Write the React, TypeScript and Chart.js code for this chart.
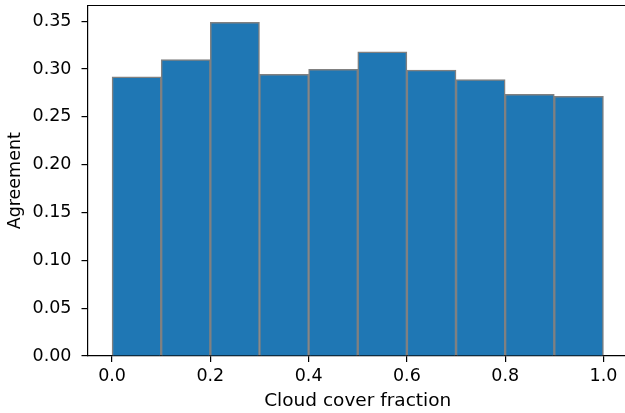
import React, { useEffect, useRef } from "react";
import { Chart, registerables } from "chart.js";

Chart.register(...registerables);

const binCenters = [0.05, 0.15, 0.25, 0.35, 0.45, 0.55, 0.65, 0.75, 0.85, 0.95];
const agreement = [0.292, 0.310, 0.349, 0.2945, 0.2997, 0.318, 0.299, 0.289, 0.2735, 0.2715];
const xTicks = [0.0, 0.2, 0.4, 0.6, 0.8, 1.0];
const yTicks = [0.0, 0.05, 0.1, 0.15, 0.2, 0.25, 0.3, 0.35];

const topSpine = {
  id: "topSpine",
  afterDraw(chart: any) {
    const { ctx, chartArea } = chart;
    ctx.save();
    ctx.strokeStyle = "#000";
    ctx.lineWidth = 1.2;
    ctx.beginPath();
    ctx.moveTo(chartArea.left, chartArea.top);
    ctx.lineTo(chartArea.right, chartArea.top);
    ctx.stroke();
    ctx.restore();
  },
};

export default function App() {
  const ref = useRef<HTMLCanvasElement>(null);
  useEffect(() => {
    document.body.style.margin = "0";
    document.body.style.overflow = "hidden";
    document.documentElement.style.overflow = "hidden";
    const font = { family: "DejaVu Sans", size: 17.5 };
    const xTitleFont = { family: "DejaVu Sans", size: 18.5 };
    const chart = new Chart(ref.current!, {
      type: "bar",
      data: {
        datasets: [
          {
            data: binCenters.map((x, i) => ({ x, y: agreement[i] })),
            backgroundColor: "#1f77b4",
            borderColor: "#808080",
            borderWidth: 1.5,
            barPercentage: 1,
            categoryPercentage: 1,
          } as any,
        ],
      },
      options: {
        animation: false,
        responsive: false,
        maintainAspectRatio: false,
        layout: { padding: { top: 5.5, right: 12, left: 0, bottom: 0 } },
        plugins: { legend: { display: false }, tooltip: { enabled: false } },
        scales: {
          x: {
            type: "linear",
            min: -0.05,
            max: 1.05,
            offset: false,
            afterBuildTicks: (s: any) => {
              s.ticks = xTicks.map((v) => ({ value: v }));
            },
            afterFit: (s: any) => {
              s.height = 57;
              s.paddingLeft = 0;
              s.paddingRight = 0;
            },
            ticks: {
              font,
              color: "#000",
              padding: 4,
              maxRotation: 0,
              callback: (v: any) => Number(v).toFixed(1),
            },
            grid: { display: true, offset: false, drawOnChartArea: false, drawTicks: true, tickLength: 6, color: "#000", lineWidth: 1.2 },
            border: { display: true, color: "#000", width: 1.2 },
            title: { display: true, text: "Cloud cover fraction", font: xTitleFont, color: "#000", padding: { top: 0, bottom: 1 } },
          },
          y: {
            type: "linear",
            min: 0,
            max: 0.3665,
            afterBuildTicks: (s: any) => {
              s.ticks = yTicks.map((v) => ({ value: v }));
            },
            afterFit: (s: any) => {
              s.width = 87.5;
              s.paddingTop = 0;
              s.paddingBottom = 0;
            },
            ticks: {
              font,
              color: "#000",
              padding: 10,
              callback: (v: any) => Number(v).toFixed(2),
            },
            grid: { display: true, drawOnChartArea: false, drawTicks: true, tickLength: 6, color: "#000", lineWidth: 1.2 },
            border: { display: true, color: "#000", width: 1.2 },
            title: { display: true, text: "Agreement", font, color: "#000", padding: { top: 5, bottom: 0 } },
          },
        },
      },
      plugins: [topSpine],
    } as any);
    return () => chart.destroy();
  }, []);
  return <canvas ref={ref} width={640} height={413} style={{ display: "block" }} />;
}
